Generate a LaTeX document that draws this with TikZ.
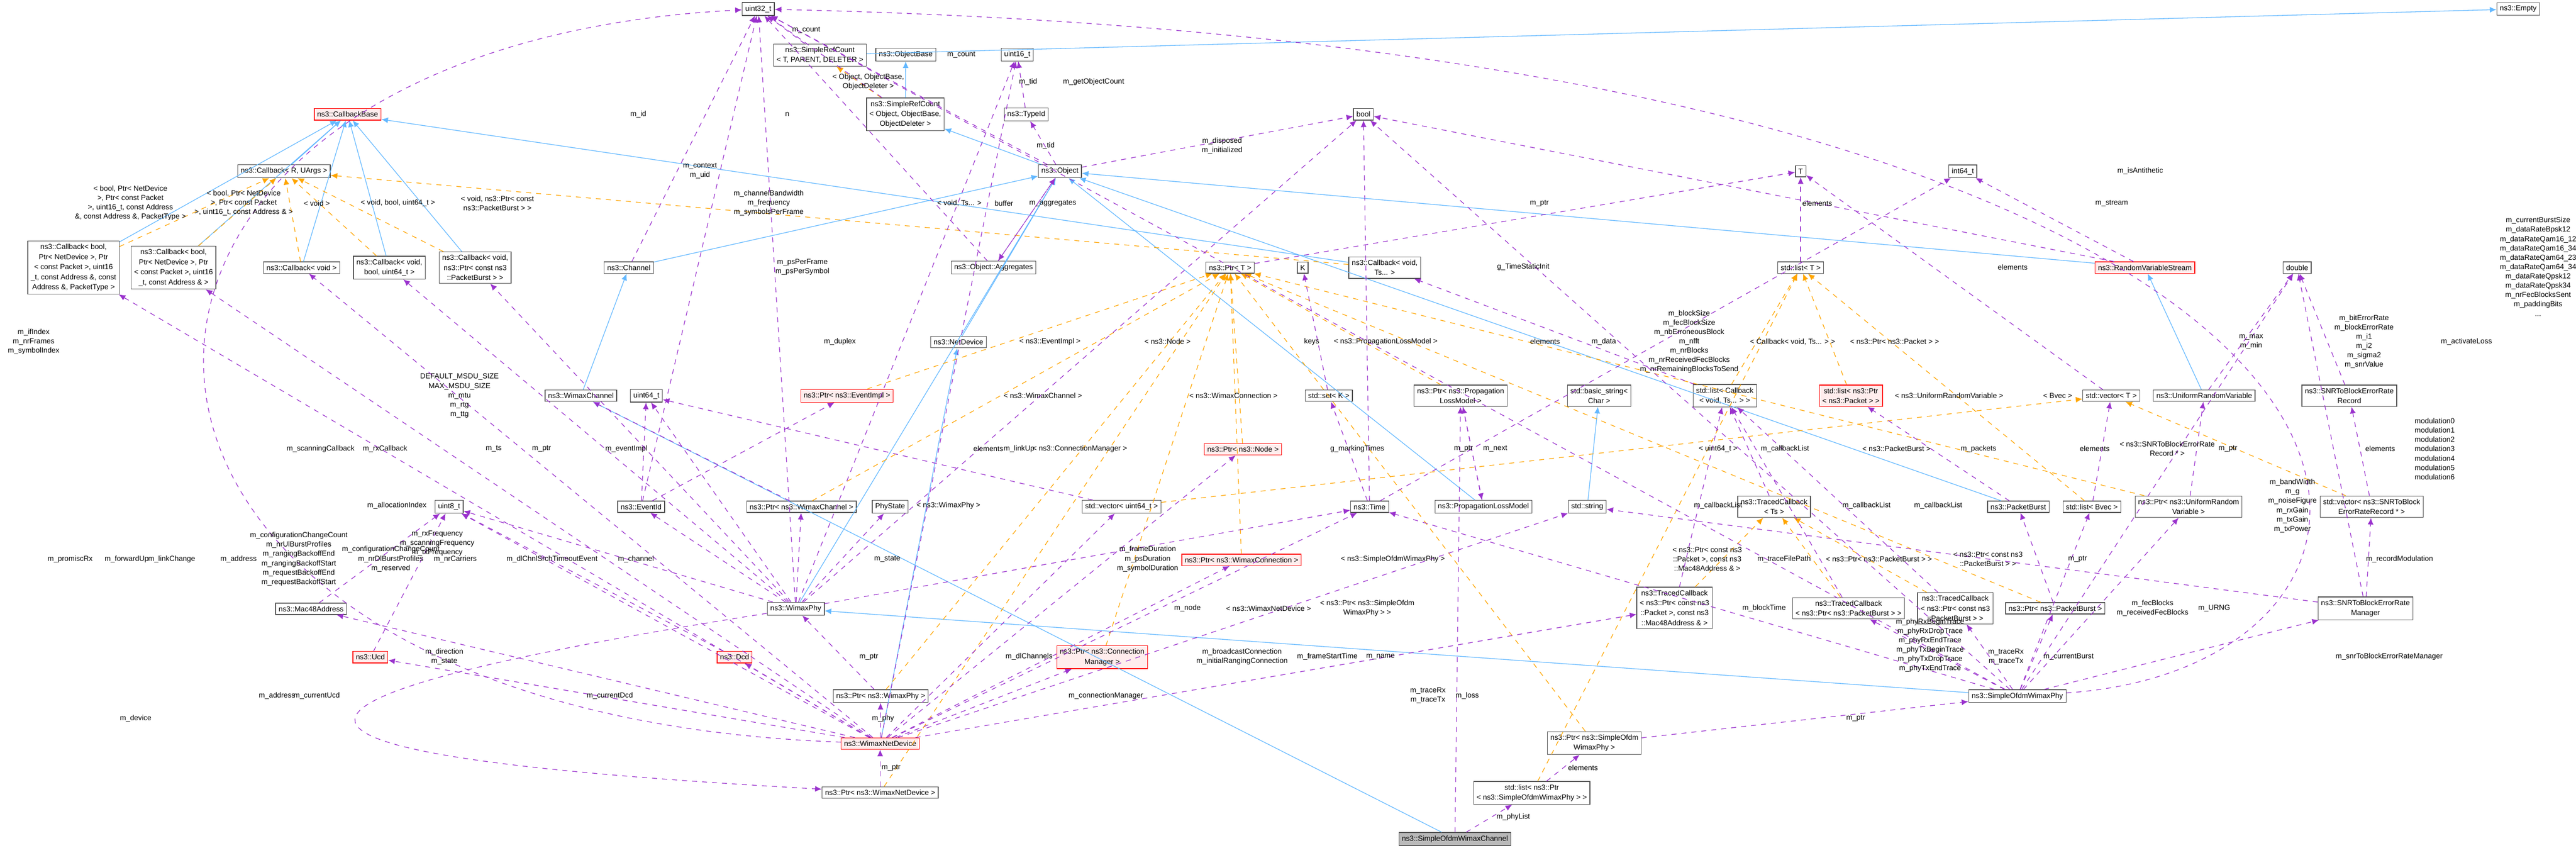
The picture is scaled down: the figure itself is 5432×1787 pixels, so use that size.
\documentclass[tikz,border=0pt]{standalone}
\usepackage{fontspec}
\setmainfont{Liberation Sans}
\usetikzlibrary{arrows.meta, positioning}
\definecolor{inhblue}{HTML}{63B8FF}
\definecolor{usepurple}{HTML}{9A32CD}
\definecolor{tplorange}{HTML}{FFA500}
\tikzset{
  cls/.style={draw=gray!60!black, fill=white, font=\fontsize{4.4}{6}\selectfont, inner sep=1.8pt, align=center},
  redcls/.style={cls, draw=red, fill=red!7},
  maincls/.style={cls, fill=gray!55},
  lbl/.style={font=\fontsize{4.4}{5.6}\selectfont, inner sep=0pt, align=center},
  inh/.style={draw=inhblue, thin, -{Latex[length=4pt,width=3.5pt]}},
  uses/.style={draw=usepurple, thin, dashed, -{Latex[length=4pt,width=3.5pt]}},
  tpl/.style={draw=tplorange, thin, dashed, -{Latex[length=4pt,width=3.5pt]}},
}
\begin{document}
\begin{tikzpicture}[x={(0.01cm,0)}, y={(0,-0.01cm)}]
  \useasboundingbox (0,0) rectangle (5432,1787);
  % classes, top rows
  \node[cls] (u32) at (1599,19) {uint32\_t};
  \node[cls] (empty) at (5310,19) {ns3::Empty};
  \node[cls] (srcT) at (1729,116) {ns3::SimpleRefCount\\< T, PARENT, DELETER >};
  \node[cls] (objbase) at (1910,115) {ns3::ObjectBase};
  \node[cls] (u16) at (2145,115) {uint16\_t};
  \node[redcls] (cbbase) at (733,241) {ns3::CallbackBase};
  \node[cls] (srcO) at (1909,241) {ns3::SimpleRefCount\\< Object, ObjectBase,\\ObjectDeleter >};
  \node[cls] (typeid) at (2164,241) {ns3::TypeId};
  \node[cls] (bool) at (2875,241) {bool};
  \node[cls] (cbR) at (599,361) {ns3::Callback< R, UArgs >};
  \node[cls] (object) at (2235,361) {ns3::Object};
  \node[cls] (T) at (3797,361) {T};
  \node[cls] (i64) at (4139,361) {int64\_t};
  % classes, middle rows
  \node[cls] (cbA) at (155,564) {ns3::Callback< bool,\\Ptr< NetDevice >, Ptr\\< const Packet >, uint16\\\_t, const Address \&, const\\Address \&, PacketType >};
  \node[cls] (cbB) at (366,564) {ns3::Callback< bool,\\Ptr< NetDevice >, Ptr\\< const Packet >, uint16\\\_t, const Address \& >};
  \node[cls] (cbV) at (636,564) {ns3::Callback< void >};
  \node[cls] (cbVB) at (821,564) {ns3::Callback< void,\\bool, uint64\_t >};
  \node[cls] (cbVP) at (1002,564) {ns3::Callback< void,\\ns3::Ptr< const ns3\\::PacketBurst > >};
  \node[cls] (channel) at (1326,564) {ns3::Channel};
  \node[cls] (aggr) at (2095,564) {ns3::Object::Aggregates};
  \node[cls] (ptrT) at (2594,564) {ns3::Ptr< T >};
  \node[cls] (K) at (2747,564) {K};
  \node[cls] (cbTs) at (2920,564) {ns3::Callback< void,\\Ts... >};
  \node[cls] (listT) at (3797,564) {std::list< T >};
  \node[redcls] (rvs) at (4523,564) {ns3::RandomVariableStream};
  \node[cls] (double) at (4844,564) {double};
  \node[cls] (netdev) at (2021,721) {ns3::NetDevice};
  \node[cls] (wchan) at (1225,834) {ns3::WimaxChannel};
  \node[cls] (u64) at (1363,834) {uint64\_t};
  \node[redcls] (ptrEv) at (1786,834) {ns3::Ptr< ns3::EventImpl >};
  \node[cls] (setK) at (2802,834) {std::set< K >};
  \node[cls] (ptrPLM) at (3080,834) {ns3::Ptr< ns3::Propagation\\LossModel >};
  \node[cls] (bstr) at (3372,834) {std::basic\_string<\\Char >};
  \node[cls] (listCb) at (3637,834) {std::list< Callback\\< void, Ts... > >};
  \node[redcls] (listPkt) at (3903,834) {std::list< ns3::Ptr\\< ns3::Packet > >};
  \node[cls] (vecT) at (4452,834) {std::vector< T >};
  \node[cls] (urv) at (4648,834) {ns3::UniformRandomVariable};
  \node[cls] (snrRec) at (4954,834) {ns3::SNRToBlockErrorRate\\Record};
  \node[redcls] (ptrNode) at (2621,947) {ns3::Ptr< ns3::Node >};
  % classes, lower rows
  \node[cls] (u8) at (947,1068) {uint8\_t};
  \node[cls] (eventid) at (1352,1068) {ns3::EventId};
  \node[cls] (ptrWch) at (1690,1068) {ns3::Ptr< ns3::WimaxChannel >};
  \node[cls] (phystate) at (1877,1068) {PhyState};
  \node[cls] (vecU64) at (2365,1068) {std::vector< uint64\_t >};
  \node[cls] (time) at (2888,1068) {ns3::Time};
  \node[cls] (plm) at (3128,1068) {ns3::PropagationLossModel};
  \node[cls] (str) at (3347,1068) {std::string};
  \node[cls] (tcTs) at (3741,1068) {ns3::TracedCallback\\< Ts >};
  \node[cls] (pburst) at (4256,1068) {ns3::PacketBurst};
  \node[cls] (listBvec) at (4411,1068) {std::list< Bvec >};
  \node[cls] (ptrURV) at (4615,1068) {ns3::Ptr< ns3::UniformRandom\\Variable >};
  \node[cls] (vecSNR) at (5001,1068) {std::vector< ns3::SNRToBlock\\ErrorRateRecord * >};
  \node[redcls] (ptrWconn) at (2618,1180) {ns3::Ptr< ns3::WimaxConnection >};
  \node[cls] (mac) at (656,1283) {ns3::Mac48Address};
  \node[cls] (wphy) at (1678,1283) {ns3::WimaxPhy};
  \node[cls] (tcMac) at (3531,1281) {ns3::TracedCallback\\< ns3::Ptr< const ns3\\::Packet >, const ns3\\::Mac48Address \& >};
  \node[cls] (tcPB) at (3898,1282) {ns3::TracedCallback\\< ns3::Ptr< ns3::PacketBurst > >};
  \node[cls] (tcCPB) at (4123,1282) {ns3::TracedCallback\\< ns3::Ptr< const ns3\\::PacketBurst > >};
  \node[cls] (ptrPB) at (4334,1282) {ns3::Ptr< ns3::PacketBurst >};
  \node[cls] (snrMgr) at (4988,1282) {ns3::SNRToBlockErrorRate\\Manager};
  \node[redcls] (ucd) at (781,1385) {ns3::Ucd};
  \node[redcls] (dcd) at (1549,1385) {ns3::Dcd};
  \node[redcls] (ptrCM) at (2324,1385) {ns3::Ptr< ns3::Connection\\Manager >};
  \node[cls] (ptrWphy) at (1857,1467) {ns3::Ptr< ns3::WimaxPhy >};
  \node[cls] (ofdmphy) at (4254,1467) {ns3::SimpleOfdmWimaxPhy};
  \node[redcls] (wnd) at (1856,1567) {ns3::WimaxNetDevice};
  \node[cls] (ptrOfdm) at (3362,1566) {ns3::Ptr< ns3::SimpleOfdm\\WimaxPhy >};
  \node[cls] (ptrWnd) at (1856,1670) {ns3::Ptr< ns3::WimaxNetDevice >};
  \node[cls] (listOfdm) at (3230,1671) {std::list< ns3::Ptr\\< ns3::SimpleOfdmWimaxPhy > >};
  \node[maincls] (ofdmchan) at (3068,1768) {ns3::SimpleOfdmWimaxChannel};

  % inheritance
  \foreach \s/\t in {cbA/cbbase, cbB/cbbase, cbR/cbbase, cbV/cbbase, cbVB/cbbase, cbVP/cbbase, cbTs/cbbase,
      srcO/objbase, object/srcO, channel/object, wchan/channel, netdev/object, wnd/netdev, wphy/object,
      pburst/object, rvs/object, urv/rvs, plm/object, str/bstr, ofdmphy/wphy, ofdmchan/wchan}
    \draw[inh] (\s) -- (\t);
  \draw[inh] (srcT) -- (empty);

  % template instances
  \foreach \s/\t in {cbA/cbR, cbB/cbR, cbV/cbR, cbVB/cbR, cbVP/cbR, cbTs/cbR, srcO/srcT,
      ptrEv/ptrT, ptrNode/ptrT, ptrWch/ptrT, ptrWconn/ptrT, ptrPLM/ptrT, ptrCM/ptrT, ptrWphy/ptrT,
      ptrWnd/ptrT, ptrOfdm/ptrT, ptrURV/ptrT, ptrPB/ptrT, listOfdm/listT, listCb/listT, listPkt/listT,
      listBvec/listT, vecU64/vecT, vecSNR/vecT, tcPB/tcTs, tcCPB/tcTs, tcMac/tcTs}
    \draw[tpl] (\s) -- (\t);

  % members
  \foreach \s/\t in {channel/u32, aggr/u32, srcT/u32, srcO/u32, object/u32, eventid/u32, wphy/u32,
      typeid/u16, object/typeid, object/bool, aggr/object, object/aggr, wphy/u16, wphy/bool,
      ptrT/T, time/bool, listT/T, time/i64, listCb/cbTs, setK/K, rvs/bool, rvs/i64, vecT/T,
      urv/double, snrRec/double, ofdmphy/bool, wnd/cbA, wnd/cbB, wnd/cbV, wphy/cbVB, wphy/cbVP,
      wnd/u16, eventid/u64, ptrWch/wchan, eventid/ptrEv, wnd/u8, wphy/u64, mac/u8, ucd/u8, dcd/u8,
      wphy/u8, wphy/eventid, wphy/ptrWch, wnd/mac, wnd/ucd, wnd/dcd, wphy/phystate, ptrWphy/wphy,
      wnd/ptrWphy, ptrWnd/wnd, vecU64/u64, wphy/time, wnd/ptrNode, wnd/vecU64, wnd/ptrCM, wnd/ptrWconn,
      wnd/time, wnd/str, wnd/tcMac, ofdmchan/ptrPLM, time/setK, ptrPLM/plm, plm/ptrPLM, listOfdm/ptrOfdm,
      ofdmchan/listOfdm, ptrOfdm/ofdmphy, tcTs/listCb, tcPB/listCb, tcCPB/listCb, tcMac/listCb,
      pburst/listPkt, listBvec/vecT, ptrURV/urv, vecSNR/snrRec, snrMgr/double, ofdmphy/double,
      ofdmphy/time, snrMgr/str, ofdmphy/tcPB, ofdmphy/tcCPB, ofdmphy/ptrPB, ptrPB/pburst,
      ofdmphy/listBvec, ofdmphy/ptrURV, snrMgr/vecSNR, ofdmphy/snrMgr, ofdmphy/u32}
    \draw[uses] (\s) -- (\t);
  \draw[uses] (wnd) .. controls (20,1500) and (20,100) .. (u32);
  \draw[uses] (wphy) .. controls (300,1500) and (600,1600) .. (ptrWnd);
  \draw[uses] (ofdmphy) .. controls (5278,1400) and (5278,100) .. (u32);

  % labels
  \node[lbl] at (275,428) {< bool, Ptr< NetDevice\\>, Ptr< const Packet\\>, uint16\_t, const Address\\\&, const Address \&, PacketType >};
  \node[lbl] at (514,428) {< bool, Ptr< NetDevice\\>, Ptr< const Packet\\>, uint16\_t, const Address \& >};
  \node[lbl] at (668,428) {< void >};
  \node[lbl] at (839,428) {< void, bool, uint64\_t >};
  \node[lbl] at (1049,428) {< void, ns3::Ptr< const\\ns3::PacketBurst > >};
  \node[lbl] at (2023,428) {< void, Ts... >};
  \node[lbl] at (1831,173) {< Object, ObjectBase,\\ObjectDeleter >};
  \node[lbl] at (71,720) {m\_ifIndex\\m\_nrFrames\\m\_symbolIndex};
  \node[lbl] at (1346,241) {m\_id};
  \node[lbl] at (1476,360) {m\_context\\m\_uid};
  \node[lbl] at (1621,428) {m\_channelBandwidth\\m\_frequency\\m\_symbolsPerFrame};
  \node[lbl] at (1660,241) {n};
  \node[lbl] at (1700,63) {m\_count};
  \node[lbl] at (2027,115) {m\_count};
  \node[lbl] at (2306,173) {m\_getObjectCount};
  \node[lbl] at (2168,173) {m\_tid};
  \node[lbl] at (2205,307) {m\_tid};
  \node[lbl] at (2577,307) {m\_disposed\\m\_initialized};
  \node[lbl] at (2117,428) {buffer};
  \node[lbl] at (2220,428) {m\_aggregates};
  \node[lbl] at (1692,563) {m\_psPerFrame\\m\_psPerSymbol};
  \node[lbl] at (1771,720) {m\_duplex};
  \node[lbl] at (3246,428) {m\_ptr};
  \node[lbl] at (3212,563) {g\_TimeStaticInit};
  \node[lbl] at (3832,428) {elements};
  \node[lbl] at (3382,720) {m\_data};
  \node[lbl] at (3562,720) {m\_blockSize\\m\_fecBlockSize\\m\_nbErroneousBlock\\m\_nfft\\m\_nrBlocks\\m\_nrReceivedFecBlocks\\m\_nrRemainingBlocksToSend};
  \node[lbl] at (3258,720) {elements};
  \node[lbl] at (2766,720) {keys};
  \node[lbl] at (4513,360) {m\_isAntithetic};
  \node[lbl] at (4453,428) {m\_stream};
  \node[lbl] at (4244,563) {elements};
  \node[lbl] at (5352,562) {m\_currentBurstSize\\m\_dataRateBpsk12\\m\_dataRateQam16\_12\\m\_dataRateQam16\_34\\m\_dataRateQam64\_23\\m\_dataRateQam64\_34\\m\_dataRateQpsk12\\m\_dataRateQpsk34\\m\_nrFecBlocksSent\\m\_paddingBits\\...};
  \node[lbl] at (4747,720) {m\_max\\m\_min};
  \node[lbl] at (4985,720) {m\_bitErrorRate\\m\_blockErrorRate\\m\_i1\\m\_i2\\m\_sigma2\\m\_snrValue};
  \node[lbl] at (5201,720) {m\_activateLoss};
  \node[lbl] at (2214,720) {< ns3::EventImpl >};
  \node[lbl] at (2462,720) {< ns3::Node >};
  \node[lbl] at (2199,834) {< ns3::WimaxChannel >};
  \node[lbl] at (2601,834) {< ns3::WimaxConnection >};
  \node[lbl] at (2922,720) {< ns3::PropagationLossModel >};
  \node[lbl] at (3780,720) {< Callback< void, Ts... > >};
  \node[lbl] at (3995,720) {< ns3::Ptr< ns3::Packet > >};
  \node[lbl] at (4110,834) {< ns3::UniformRandomVariable >};
  \node[lbl] at (4339,834) {< Bvec >};
  \node[lbl] at (969,834) {DEFAULT\_MSDU\_SIZE\\MAX\_MSDU\_SIZE\\m\_mtu\\m\_rtg\\m\_ttg};
  \node[lbl] at (148,1178) {m\_promiscRx};
  \node[lbl] at (267,1178) {m\_forwardUp};
  \node[lbl] at (362,1178) {m\_linkChange};
  \node[lbl] at (676,946) {m\_scanningCallback};
  \node[lbl] at (812,946) {m\_rxCallback};
  \node[lbl] at (1041,946) {m\_ts};
  \node[lbl] at (1142,946) {m\_ptr};
  \node[lbl] at (1321,946) {m\_eventImpl};
  \node[lbl, anchor=east] at (900,1066) {m\_allocationIndex};
  \node[lbl] at (922,1145) {m\_rxFrequency\\m\_scanningFrequency\\m\_txFrequency};
  \node[lbl] at (503,1178) {m\_address};
  \node[lbl] at (630,1178) {m\_configurationChangeCount\\m\_nrUlBurstProfiles\\m\_rangingBackoffEnd\\m\_rangingBackoffStart\\m\_requestBackoffEnd\\m\_requestBackoffStart};
  \node[lbl] at (824,1178) {m\_configurationChangeCount\\m\_nrDlBurstProfiles\\m\_reserved};
  \node[lbl] at (960,1178) {m\_nrCarriers};
  \node[lbl] at (1164,1178) {m\_dlChnlSrchTimeoutEvent};
  \node[lbl] at (1341,1178) {m\_channel};
  \node[lbl] at (937,1384) {m\_direction\\m\_state};
  \node[lbl] at (584,1466) {m\_address};
  \node[lbl] at (668,1466) {m\_currentUcd};
  \node[lbl] at (1286,1466) {m\_currentDcd};
  \node[lbl] at (286,1514) {m\_device};
  \node[lbl] at (1871,1178) {m\_state};
  \node[lbl] at (1832,1384) {m\_ptr};
  \node[lbl] at (1862,1514) {m\_phy};
  \node[lbl] at (1879,1618) {m\_ptr};
  \node[lbl] at (2084,946) {elements};
  \node[lbl] at (2149,946) {m\_linkUp};
  \node[lbl] at (2277,946) {< ns3::ConnectionManager >};
  \node[lbl] at (2000,1066) {< ns3::WimaxPhy >};
  \node[lbl] at (2420,1178) {m\_frameDuration\\m\_psDuration\\m\_symbolDuration};
  \node[lbl] at (2504,1282) {m\_node};
  \node[lbl] at (2170,1384) {m\_dlChannels};
  \node[lbl] at (2332,1466) {m\_connectionManager};
  \node[lbl] at (2619,1384) {m\_broadcastConnection\\m\_initialRangingConnection};
  \node[lbl] at (2799,1384) {m\_frameStartTime};
  \node[lbl] at (2911,1384) {m\_name};
  \node[lbl] at (2675,1282) {< ns3::WimaxNetDevice >};
  \node[lbl] at (3011,1466) {m\_traceRx\\m\_traceTx};
  \node[lbl] at (3094,1466) {m\_loss};
  \node[lbl] at (2862,946) {g\_markingTimes};
  \node[lbl] at (3086,946) {m\_ptr};
  \node[lbl] at (3153,946) {m\_next};
  \node[lbl] at (2937,1178) {< ns3::SimpleOfdmWimaxPhy >};
  \node[lbl] at (2883,1282) {< ns3::Ptr< ns3::SimpleOfdm\\WimaxPhy > >};
  \node[lbl] at (3338,1618) {elements};
  \node[lbl] at (3191,1722) {m\_phyList};
  \node[lbl] at (3913,1514) {m\_ptr};
  \node[lbl] at (3600,1178) {< ns3::Ptr< const ns3\\::Packet >, const ns3\\::Mac48Address \& >};
  \node[lbl] at (3623,946) {< uint64\_t >};
  \node[lbl] at (3764,946) {m\_callbackList};
  \node[lbl] at (3623,1066) {m\_callbackList};
  \node[lbl] at (3936,1066) {m\_callbackList};
  \node[lbl] at (4087,1066) {m\_callbackList};
  \node[lbl] at (3999,946) {< ns3::PacketBurst >};
  \node[lbl] at (4172,946) {m\_packets};
  \node[lbl] at (4417,946) {elements};
  \node[lbl] at (4570,946) {< ns3::SNRToBlockErrorRate\\Record * >};
  \node[lbl] at (4698,946) {m\_ptr};
  \node[lbl] at (5019,946) {elements};
  \node[lbl] at (5134,946) {modulation0\\modulation1\\modulation2\\modulation3\\modulation4\\modulation5\\modulation6};
  \node[lbl] at (4834,1066) {m\_bandWidth\\m\_g\\m\_noiseFigure\\m\_rxGain\\m\_txGain\\m\_txPower};
  \node[lbl] at (3720,1282) {m\_blockTime};
  \node[lbl] at (3762,1178) {m\_traceFilePath};
  \node[lbl] at (3962,1178) {< ns3::Ptr< ns3::PacketBurst > >};
  \node[lbl] at (4192,1178) {< ns3::Ptr< const ns3\\::PacketBurst > >};
  \node[lbl] at (4381,1178) {m\_ptr};
  \node[lbl] at (4070,1360) {m\_phyRxBeginTrace\\m\_phyRxDropTrace\\m\_phyRxEndTrace\\m\_phyTxBeginTrace\\m\_phyTxDropTrace\\m\_phyTxEndTrace};
  \node[lbl] at (4230,1384) {m\_traceRx\\m\_traceTx};
  \node[lbl] at (4362,1384) {m\_currentBurst};
  \node[lbl] at (4539,1282) {m\_fecBlocks\\m\_receivedFecBlocks};
  \node[lbl] at (4669,1282) {m\_URNG};
  \node[lbl] at (5060,1178) {m\_recordModulation};
  \node[lbl] at (5038,1384) {m\_snrToBlockErrorRateManager};
\end{tikzpicture}
\end{document}
